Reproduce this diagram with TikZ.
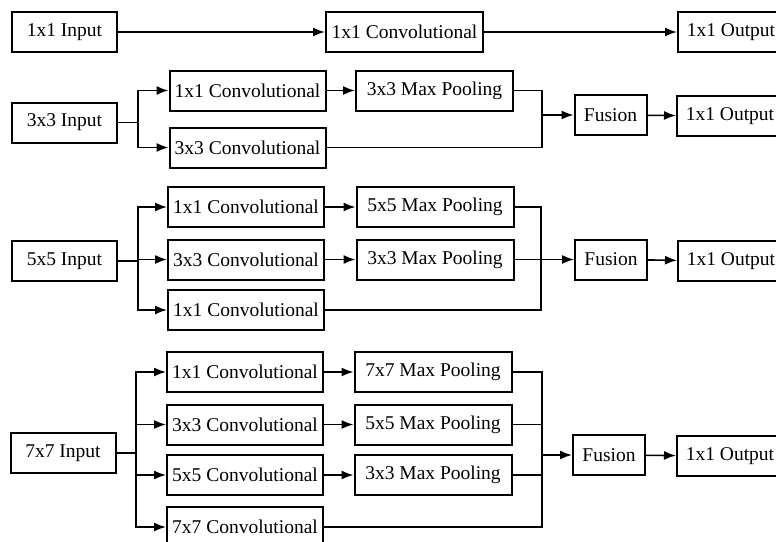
\documentclass[tikz,border=0pt]{standalone}
\usepackage{fontspec}
\setmainfont{Liberation Serif}
\usetikzlibrary{arrows.meta,positioning}

\tikzset{
  box/.style = {draw, line width=2pt, minimum height=40pt, inner xsep=4pt,
                font=\fontsize{19.5}{23}\selectfont},
  inbox/.style = {box, minimum width=105pt},
  convbox/.style = {box, minimum width=156pt},
  poolbox/.style = {box, minimum width=157pt},
  fusebox/.style = {box, minimum width=72pt},
  outbox/.style = {box, minimum width=106pt},
  link/.style = {line width=1.6pt},
  arr/.style = {link, -{Latex[length=12pt,width=9pt]}}
}

\begin{document}
\begin{tikzpicture}[x=1pt, y=-1pt]
\useasboundingbox (0,0) rectangle (776,541);
\clip (0,0) rectangle (776,541);

% 1x1
\node[inbox] (in1) at (64.5,32) {1x1 Input};
\node[convbox, minimum width=157pt] (c1a) at (404.5,32) {1x1 Convolutional};
\node[outbox] (out1) at (731,32) {1x1 Output};
\draw[arr] (in1) -- (c1a);
\draw[arr] (c1a) -- (out1);

% 3x3
\node[inbox] (in3) at (64.5,122.5) {3x3 Input};
\node[convbox] (c3a) at (247.5,90.5) {1x1 Convolutional};
\node[convbox] (c3b) at (247.5,147.5) {3x3 Convolutional};
\node[poolbox] (p3a) at (434.5,90.5) {3x3 Max Pooling};
\node[fusebox] (f3) at (610.5,115) {Fusion};
\node[outbox] (out3) at (730,116) {1x1 Output};
\coordinate (b3) at (138,122.5);
\coordinate (m3) at (542,115);
\draw[link] (in3) -- (b3);
\draw[arr] (b3) |- (c3a.west);
\draw[arr] (b3) |- (c3b.west);
\draw[arr] (c3a) -- (p3a);
\draw[link] (p3a.east) -| (m3);
\draw[link] (c3b.east) -| (m3);
\draw[arr] (m3) -- (f3);
\draw[arr] (f3) -- (out3);

% 5x5
\node[inbox] (in5) at (64.5,261) {5x5 Input};
\node[convbox] (c5a) at (246,207) {1x1 Convolutional};
\node[convbox] (c5b) at (246,259.5) {3x3 Convolutional};
\node[convbox] (c5c) at (246,310) {1x1 Convolutional};
\node[poolbox] (p5a) at (435,207) {5x5 Max Pooling};
\node[poolbox] (p5b) at (435,259.5) {3x3 Max Pooling};
\node[fusebox] (f5) at (611,259.5) {Fusion};
\node[outbox] (out5) at (731,261) {1x1 Output};
\coordinate (b5) at (138,261);
\coordinate (m5) at (541,259.5);
\draw[link] (in5) -- (b5);
\draw[arr] (b5) |- (c5a.west);
\draw[arr] (b5) |- (c5b.west);
\draw[arr] (b5) |- (c5c.west);
\draw[arr] (c5a) -- (p5a);
\draw[arr] (c5b) -- (p5b);
\draw[link] (p5a.east) -| (m5);
\draw[link] (p5b.east) -| (m5);
\draw[link] (c5c.east) -| (m5);
\draw[arr] (m5) -- (f5);
\draw[arr] (f5) -- (out5);

% 7x7
\node[inbox] (in7) at (63,453) {7x7 Input};
\node[convbox] (c7a) at (245,372) {1x1 Convolutional};
\node[convbox] (c7b) at (245,424.5) {3x3 Convolutional};
\node[convbox] (c7c) at (245,475) {5x5 Convolutional};
\node[convbox] (c7d) at (245,527) {7x7 Convolutional};
\node[poolbox] (p7a) at (433,372) {7x7 Max Pooling};
\node[poolbox] (p7b) at (433,424.5) {5x5 Max Pooling};
\node[poolbox] (p7c) at (433,475) {3x3 Max Pooling};
\node[fusebox] (f7) at (609,455) {Fusion};
\node[outbox] (out7) at (730,456) {1x1 Output};
\coordinate (b7) at (136,453);
\coordinate (m7) at (542,455);
\draw[link] (in7) -- (b7);
\draw[arr] (b7) |- (c7a.west);
\draw[arr] (b7) |- (c7b.west);
\draw[arr] (b7) |- (c7c.west);
\draw[arr] (b7) |- (c7d.west);
\draw[arr] (c7a) -- (p7a);
\draw[arr] (c7b) -- (p7b);
\draw[arr] (c7c) -- (p7c);
\draw[link] (p7a.east) -| (m7);
\draw[link] (p7b.east) -| (m7);
\draw[link] (p7c.east) -| (m7);
\draw[link] (c7d.east) -| (m7);
\draw[arr] (m7) -- (f7);
\draw[arr] (f7) -- (out7);
\end{tikzpicture}
\end{document}
